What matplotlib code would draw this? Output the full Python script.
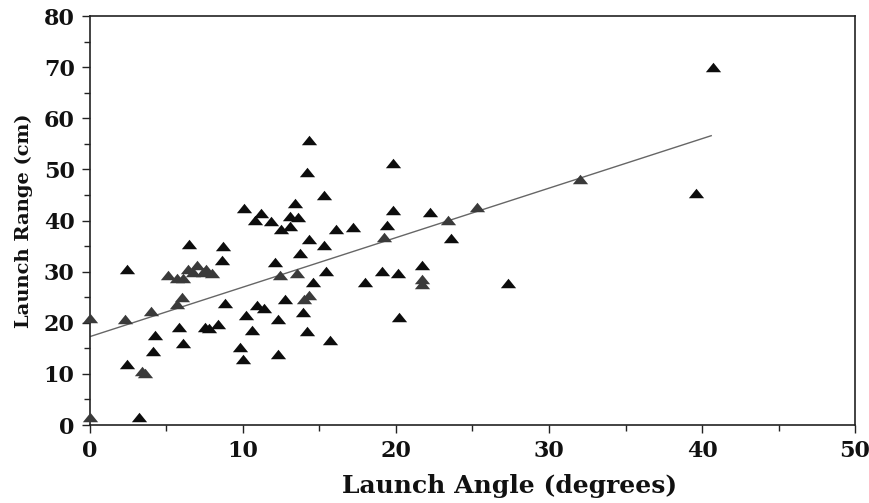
import numpy as np
import matplotlib
matplotlib.use("Agg")
from matplotlib import pyplot as plt
from matplotlib.ticker import MultipleLocator

# launch angle (deg) / launch range (cm), dark markers
angle_dark = [2.4, 2.4, 3.2, 4.1, 4.25, 5.8, 6.1, 6.5, 7.5, 7.8, 8.4, 8.6, 8.7,
              8.8, 9.8, 10.0, 10.07, 10.2, 10.6, 10.8, 10.9, 11.2, 11.4, 11.8,
              12.1, 12.3, 12.3, 12.5, 12.75, 13.1, 13.1, 13.4, 13.6, 13.7, 13.9,
              14.2, 14.2, 14.3, 14.3, 14.55, 15.3, 15.3, 15.4, 15.7, 16.1, 17.2,
              18.0, 19.1, 19.4, 19.8, 19.8, 20.15, 20.2, 21.7, 22.2, 23.6, 27.3,
              39.6, 40.7]
range_dark = [30.6, 11.9, 1.5, 14.5, 17.6, 19.1, 16.0, 35.4, 19.1, 18.9, 19.7,
              32.3, 35.0, 23.8, 15.3, 12.9, 42.4, 21.5, 18.6, 40.1, 23.5, 41.4,
              22.8, 40.0, 31.9, 20.7, 13.8, 38.3, 24.6, 40.9, 38.9, 43.4, 40.7,
              33.6, 22.2, 18.3, 49.5, 55.7, 36.3, 28.0, 45.0, 35.2, 30.2, 16.6,
              38.3, 38.7, 28.0, 30.2, 39.1, 42.1, 51.3, 29.8, 21.1, 31.4, 41.6,
              36.5, 27.8, 45.3, 70.1]

# fainter (grey) markers
angle_grey = [0.0, 0.0, 2.3, 3.4, 3.6, 4.0, 5.1, 5.7, 5.7, 6.0, 6.1, 6.4, 6.75,
              7.0, 7.4, 7.6, 7.95, 12.4, 13.5, 14.0, 14.3, 19.2, 21.7, 21.7,
              23.4, 25.3, 32.0]
range_grey = [1.5, 21.0, 20.7, 10.6, 10.2, 22.4, 29.3, 23.6, 28.7, 25.1, 28.7,
              30.6, 30.0, 31.3, 30.0, 30.6, 29.7, 29.4, 29.8, 24.7, 25.4, 36.7,
              28.5, 27.6, 40.1, 42.7, 48.1]

# fitted line
fit_intercept = 17.3
fit_slope = 0.968
fit_x = [0.0, 40.6]

plt.rcParams['font.family'] = ['DejaVu Serif']

tri = [(-1, -0.62), (1, -0.62), (0, 0.62), (-1, -0.62)]

fig = plt.figure(figsize=(8.7, 5.03), dpi=100)
ax = fig.add_axes([0.1034, 0.155, 0.8794, 0.813])

fx = np.array(fit_x)
ax.plot(fx, fit_intercept + fit_slope * fx, color='#666666', lw=1.0, zorder=2)
ax.plot(angle_grey, range_grey, ls='none', marker=tri, ms=11, color='#3a3a3a',
        mec='none', clip_on=False, zorder=3)
ax.plot(angle_dark, range_dark, ls='none', marker=tri, ms=11, color='#0d0d0d',
        mec='none', clip_on=False, zorder=4)

ax.set_xlim(0, 50)
ax.set_ylim(0, 80)
ax.xaxis.set_major_locator(MultipleLocator(10))
ax.xaxis.set_minor_locator(MultipleLocator(5))
ax.yaxis.set_major_locator(MultipleLocator(10))
ax.yaxis.set_minor_locator(MultipleLocator(5))
ax.tick_params(which='major', direction='out', length=6, width=1, color='#222222',
               labelsize=16, labelcolor='#111111')
ax.tick_params(which='minor', direction='out', length=4, width=1, color='#222222')
ax.tick_params(axis='x', pad=5)
ax.tick_params(axis='y', pad=5)
for lbl in ax.get_xticklabels() + ax.get_yticklabels():
    lbl.set_fontweight('bold')
for s in ax.spines.values():
    s.set_linewidth(1.2)
    s.set_color('#222222')

ax.set_xlabel('Launch Angle (degrees)', fontsize=18, fontweight='bold',
              color='#111111')
ax.xaxis.set_label_coords(0.549, -0.12)
ax.set_ylabel('Launch Range (cm)', fontsize=14, fontweight='bold',
              color='#111111', labelpad=8)

fig.savefig('out.png', dpi=100)
